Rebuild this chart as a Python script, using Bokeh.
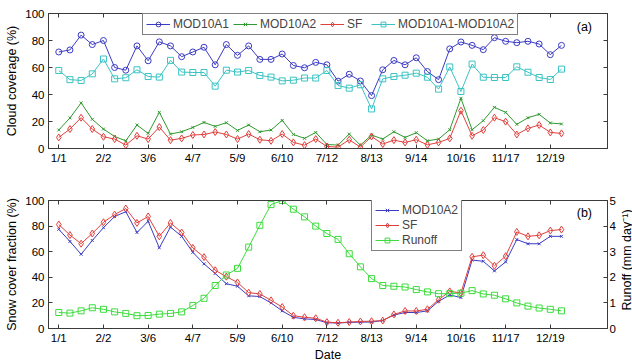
import math
from bokeh.plotting import figure
from bokeh.models import Range1d, LinearAxis, FixedTicker, Legend, LegendItem, Label
from bokeh.layouts import column, row
from bokeh.embed import file_html
from bokeh.resources import INLINE

# ---------------- data ----------------
tick_labels = ["1/1", "2/2", "3/6", "4/7", "5/9", "6/10", "7/12", "8/13",
               "9/14", "10/16", "11/17", "12/19"]

# 8-day composites (46 periods)
cloud_mod10a1 = [71.5, 73, 84, 77, 80, 60, 58, 76, 65, 79, 76, 68, 71.5, 75, 62, 77,
                 69, 76, 66, 66, 70, 61.5, 59.8, 63.8, 62, 49.9, 55, 50, 39.2, 58.3,
                 65.2, 62, 67.2, 57, 51, 73.8, 78.9, 76.4, 73.2, 82.1, 79.4, 78.4,
                 79.4, 77.4, 69.5, 76.4]
cloud_mod10a2 = [13.7, 22.6, 33.8, 21.6, 14.4, 8.9, 5.7, 17.4, 11.2, 26.8, 10.7, 12.4,
                 15.6, 19.3, 16.4, 19.1, 13.4, 17.4, 12.4, 13.7, 20.8, 10.4, 7.5, 11.9,
                 3, 2.5, 10.7, 2.5, 10, 7, 12.4, 8.2, 11.7, 5.7, 7, 13.9, 37.2, 13.9,
                 20.6, 30.5, 26.8, 17.9, 22.8, 25.3, 18.9, 18.2]
cloud_sf = [8.2, 14.4, 22.8, 14.4, 8.7, 7, 2.5, 9.4, 7, 15.9, 6.2, 7.5, 10, 10.4, 12.2,
            10.4, 7, 10.7, 6.5, 5.7, 10.7, 4.5, 2.5, 7, 1.5, 1, 6.5, 1, 8.9, 3.3, 6.2,
            4.5, 6.5, 2.7, 4.5, 7.5, 28, 9.4, 13.7, 22.8, 19.9, 10.4, 14.9, 17.4, 11.9,
            11.2]
cloud_diff = [57.8, 51, 50.4, 55.3, 66.3, 51.6, 52.4, 58.3, 53.3, 52.9, 65.3, 56.6, 56.3,
              56.3, 46.2, 58, 56.6, 57.8, 54.1, 52.9, 50.1, 50.6, 52.2, 52.2, 57.8, 46.7,
              44.7, 47.2, 29.3, 51.6, 53.3, 54.3, 55.8, 52.8, 44, 60.4, 42.2, 62.5, 52.8,
              52.6, 52.6, 60.5, 56.5, 52.6, 51.1, 58.8]

scf_mod10a2 = [77.5, 68, 58, 68.75, 78.75, 87.5, 91.25, 75, 83.75, 63, 79.25, 72, 59.5,
               50.5, 43, 35, 33, 25.5, 25, 20, 13.75, 8.75, 7.5, 7, 4.5, 4.25, 4.75, 5,
               5, 6.25, 10.5, 12.5, 12.5, 13.75, 21.25, 26.2, 24.2, 53.5, 52.5, 45, 52,
               69.5, 66.2, 66.2, 72, 72]
scf_sf = [81.25, 73, 66.25, 74.25, 83, 89, 93.75, 82.5, 87.5, 72, 82.5, 75, 63, 55.75,
          45.5, 40.5, 36, 28, 27, 22, 16.75, 10, 8.8, 8, 5, 4.5, 5, 5.5, 5.7, 6.2, 11,
          13.7, 13.7, 15, 22.5, 29, 27.8, 56, 57.3, 49, 56.5, 75.5, 72, 72.8, 76.5, 77.3]
runoff = [0.625, 0.6, 0.69, 0.81, 0.75, 0.65, 0.59, 0.5, 0.51, 0.56, 0.59, 0.65, 0.9,
          1.18, 1.68, 2.09, 2.35, 3.18, 4.03, 4.84, 5.0, 4.66, 4.36, 4.0, 3.71, 3.48,
          2.92, 2.41, 1.95, 1.68, 1.65, 1.62, 1.52, 1.43, 1.36, 1.36, 1.38, 1.48, 1.35,
          1.3, 1.16, 1.0, 0.875, 0.8, 0.75, 0.69]

x = list(range(len(cloud_mod10a1)))
tick_pos = [4 * k for k in range(len(tick_labels))]
pct_ticks = [0, 20, 40, 60, 80, 100]
runoff_ticks = [0, 1, 2, 3, 4, 5]

FONT = "Liberation Sans"
AX = "#3a3a3a"
BLUE = "#3b3bc4"
GREEN = "#2f9a2f"
RED = "#e0403c"
CYAN = "#3cc3c3"
LIME = "#3ddc3d"


def base_axis_style(ax):
    ax.axis_line_color = AX
    ax.major_tick_line_color = AX
    ax.major_tick_in = 4
    ax.major_tick_out = 0
    ax.minor_tick_line_color = None
    ax.major_label_text_font = FONT
    ax.major_label_text_font_size = "11.5px"
    ax.major_label_text_color = "black"
    ax.axis_label_text_font = FONT
    ax.axis_label_text_font_size = "12.5px"
    ax.axis_label_text_font_style = "normal"
    ax.axis_label_text_color = "black"


def blank_axis(ticks, **kw):
    ax = LinearAxis(ticker=FixedTicker(ticks=ticks), **kw)
    base_axis_style(ax)
    ax.major_label_overrides = {t: "" for t in ticks}
    ax.major_label_standoff = 0
    return ax


def style(p, ylabel, xlabel=None):
    p.xgrid.grid_line_color = None
    p.ygrid.grid_line_color = None
    p.outline_line_color = AX
    p.background_fill_color = "white"
    for ax in p.axis:
        base_axis_style(ax)
    p.xaxis.ticker = FixedTicker(ticks=tick_pos)
    p.xaxis.major_label_overrides = {t: l for t, l in zip(tick_pos, tick_labels)}
    p.xaxis.major_label_standoff = 3
    p.yaxis.ticker = FixedTicker(ticks=pct_ticks)
    p.yaxis.major_label_standoff = 4
    p.yaxis.axis_label = ylabel
    p.yaxis.axis_label_standoff = 3
    if xlabel:
        p.xaxis.axis_label = xlabel
        p.xaxis.axis_label_standoff = 1
    p.add_layout(blank_axis(tick_pos), "above")


def series(p, y, color, marker, size, y_range_name="default"):
    ln = p.line(x, y, line_color=color, line_width=1, y_range_name=y_range_name)
    sc = p.scatter(x, y, marker=marker, size=size, line_color=color, fill_color=None,
                   line_width=1, y_range_name=y_range_name)
    return [ln, sc]


def legend_style(lg):
    lg.label_text_font = FONT
    lg.label_text_font_size = "12px"
    lg.glyph_width = 24
    lg.glyph_height = 12
    lg.label_height = 12
    lg.label_standoff = 3
    lg.padding = 3
    lg.margin = 0
    lg.border_line_color = "black"
    lg.border_line_width = 1
    lg.background_fill_color = "white"
    lg.background_fill_alpha = 1


# ---------------- panel (a) ----------------
p1 = figure(width=632, height=182, x_range=Range1d(-0.92, 49.12), y_range=Range1d(0, 100),
            output_backend="svg", toolbar_location=None,
            min_border_left=48, min_border_right=25, min_border_top=13, min_border_bottom=34)
r1 = series(p1, cloud_mod10a1, BLUE, "circle", 6)
r2 = series(p1, cloud_mod10a2, GREEN, "x", 4)
r3 = series(p1, cloud_sf, RED, "diamond", 7)
r4 = series(p1, cloud_diff, CYAN, "square", 6)
style(p1, "Cloud coverage (%)")
p1.add_layout(blank_axis(pct_ticks), "right")
lg1 = Legend(items=[LegendItem(label="MOD10A1", renderers=r1),
                    LegendItem(label="MOD10A2", renderers=r2),
                    LegendItem(label="SF", renderers=r3),
                    LegendItem(label="MOD10A1-MOD10A2", renderers=r4)],
             orientation="horizontal", location=(94, 113))
legend_style(lg1)
lg1.spacing = 4
p1.add_layout(lg1)
p1.add_layout(Label(x=47.05, y=90, text="(a)", text_align="center", text_baseline="middle",
                    text_font=FONT, text_font_size="12.5px", text_color="black"))

# ---------------- panel (b) ----------------
p2 = figure(width=618, height=182, x_range=Range1d(-0.92, 49.12), y_range=Range1d(0, 100),
            output_backend="svg", toolbar_location=None,
            min_border_left=48, min_border_right=11, min_border_top=18, min_border_bottom=31)
p2.extra_y_ranges = {"runoff": Range1d(0, 5)}
b1 = series(p2, scf_mod10a2, BLUE, "x", 4)
b2 = series(p2, scf_sf, RED, "diamond", 7)
b3 = series(p2, runoff, LIME, "square", 6, y_range_name="runoff")
style(p2, "Snow cover fraction (%)", "Date")
right2 = LinearAxis(y_range_name="runoff", ticker=FixedTicker(ticks=runoff_ticks))
base_axis_style(right2)
right2.major_label_standoff = 2
p2.add_layout(right2, "right")
lg2 = Legend(items=[LegendItem(label="MOD10A2", renderers=b1),
                    LegendItem(label="SF", renderers=b2),
                    LegendItem(label="Runoff", renderers=b3)],
             orientation="vertical", location=(323, 77))
legend_style(lg2)
lg2.spacing = 1
p2.add_layout(lg2)
p2.add_layout(Label(x=47.05, y=90, text="(b)", text_align="center", text_baseline="middle",
                    text_font=FONT, text_font_size="12.5px", text_color="black"))

# narrow strip carrying the right-hand axis title (reads bottom-to-top)
ps = figure(width=14, height=182, x_range=Range1d(0, 14), y_range=Range1d(0, 182),
            output_backend="svg", toolbar_location=None, x_axis_type=None, y_axis_type=None,
            min_border_left=0, min_border_right=0, min_border_top=0, min_border_bottom=0)
ps.xgrid.grid_line_color = None
ps.ygrid.grid_line_color = None
ps.outline_line_color = None
ps.add_layout(Label(x=8, y=97.5, text="Runoff (mm day\u207b\u00b9)", angle=math.pi / 2,
                    text_align="center", text_baseline="middle", text_font=FONT,
                    text_font_size="12.5px", text_color="black"))

layout = column(p1, row(p2, ps, spacing=0), spacing=0)
open("out.html", "w").write(file_html(layout, INLINE))
